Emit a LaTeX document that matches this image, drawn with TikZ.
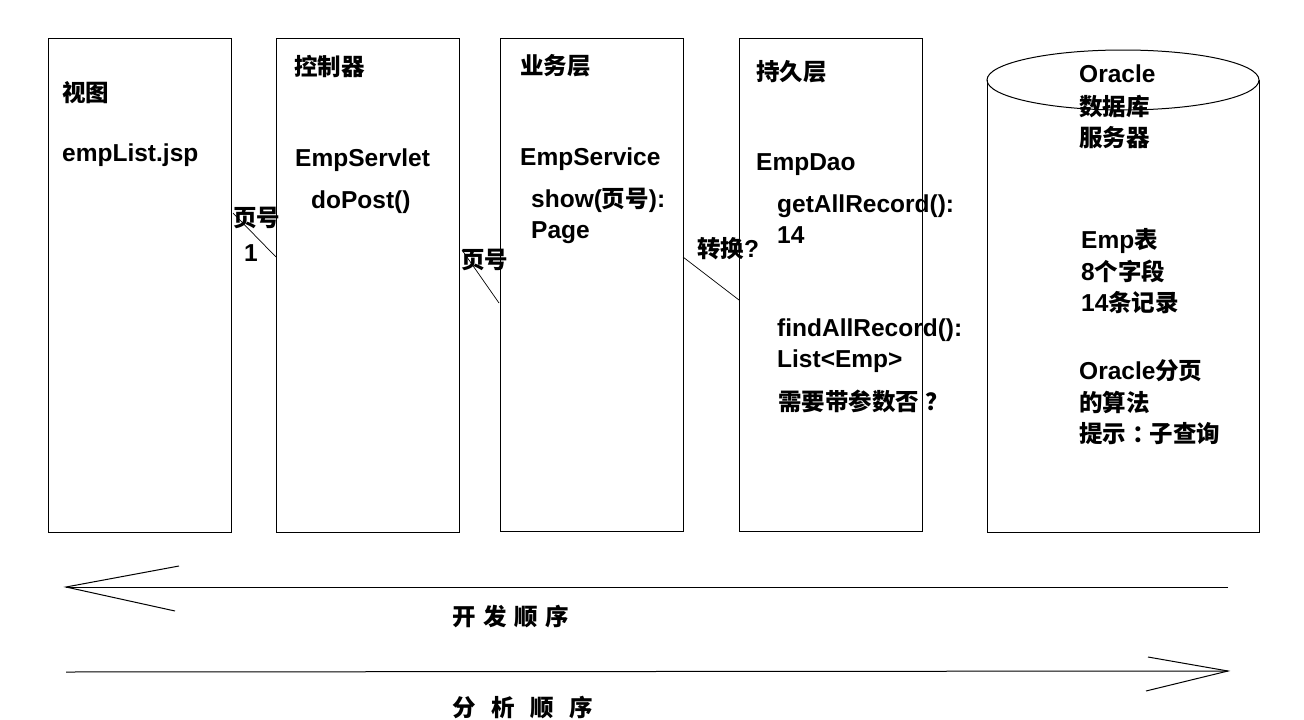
\documentclass[tikz,border=0pt]{standalone}
\usepackage{fontspec}
\setmainfont{Liberation Sans}
\newfontfamily\zhf{Noto Sans CJK SC}
\newcommand\zh[1]{{\zhf\bfseries\fontsize{23.5}{28}\selectfont #1}}
\begin{document}
\begin{tikzpicture}[x=1pt,y=-1pt,
  box/.style={draw,line width=1pt,inner sep=0pt,anchor=north west},
  txt/.style={inner sep=0pt,anchor=base west,font=\bfseries\fontsize{24.5}{30}\selectfont},
  thin/.style={line width=0.7pt},
  main/.style={line width=1pt}]
\useasboundingbox (0,0) rectangle (1304,720);
% boxes
\node[box,minimum width=183pt,minimum height=494pt] (view) at (48,38) {};
\node[box,minimum width=183pt,minimum height=494pt] (ctrl) at (276,38) {};
\node[box,minimum width=183pt,minimum height=493pt] (svc) at (500,38) {};
\node[box,minimum width=183pt,minimum height=493pt] (dao) at (739,38) {};
% cylinder
\draw[main] (987,80) -- (987,532) -- (1259,532) -- (1259,80);
\draw[main] (1123,80) ellipse [x radius=136, y radius=30];
% texts
\node[txt] (v1) at (62,101) {\zh{视图}};
\node[txt] (v2) at (62,161) {empList.jsp};
\node[txt] (c1) at (294,75) {\zh{控制器}};
\node[txt] (c2) at (295,166) {EmpServlet};
\node[txt] (c3) at (311,208) {doPost()};
\node[txt] (b1) at (520,74) {\zh{业务层}};
\node[txt] (b2) at (520,165) {EmpService};
\node[txt] (b3) at (531,207) {show(\zh{页号}):};
\node[txt] (b4) at (531,238) {Page};
\node[txt] (p1) at (756,80) {\zh{持久层}};
\node[txt] (p2) at (756,170) {EmpDao};
\node[txt] (p3) at (777,212) {getAllRecord():};
\node[txt] (p4) at (777,243) {14};
\node[txt] (p5) at (777,336) {findAllRecord():};
\node[txt] (p6) at (777,367) {List<Emp>};
\node[txt] (p7) at (778,410) {\zh{需要带参数否\hspace{6pt}？}};
\node[txt] (o1) at (1079,82) {Oracle};
\node[txt] (o2) at (1079,115) {\zh{数据库}};
\node[txt] (o3) at (1079,146) {\zh{服务器}};
\node[txt] (o4) at (1081,248) {Emp\zh{表}};
\node[txt] (o5) at (1081,280) {8\zh{个字段}};
\node[txt] (o6) at (1081,311) {14\zh{条记录}};
\node[txt] (o7) at (1079,379) {Oracle\zh{分页}};
\node[txt] (o8) at (1079,411) {\zh{的算法}};
\node[txt] (o9) at (1079,442) {\zh{提示\hspace{6pt}：\hspace{-6pt}子查询}};
\node[txt] (l1) at (233,226) {\zh{页号}};
\node[txt] (l2) at (244,261) {1};
\node[txt] (l3) at (461,268) {\zh{页号}};
\node[txt] (l4) at (697,257) {\zh{转换}?};
\node[txt] (a1) at (452,625) {\zh{开\hspace{7.5pt}发\hspace{7.5pt}顺\hspace{7.5pt}序}};
\node[txt] (a2) at (452,716) {\zh{分\hspace{15.5pt}析\hspace{15.5pt}顺\hspace{15.5pt}序}};
% diagonal connectors
\coordinate (d1a) at (233,213); \coordinate (d1b) at (276,257);
\coordinate (d2a) at (462,250); \coordinate (d2b) at (499,303);
\coordinate (d3a) at (683,257); \coordinate (d3b) at (739,300);
\draw[thin] (d1a) -- (d1b);
\draw[thin] (d2a) -- (d2b);
\draw[thin] (d3a) -- (d3b);
% development order arrow (leftwards)
\coordinate (t1) at (66,587); \coordinate (t2) at (1228,587);
\coordinate (t3) at (179,566); \coordinate (t4) at (175,611);
\draw[main] (t2) -- (t1);
\draw[main] (t3) -- (t1) -- (t4);
% analysis order arrow (rightwards)
\coordinate (s1) at (66,672); \coordinate (s2) at (1228,671);
\coordinate (s3) at (1148,657); \coordinate (s4) at (1146,691);
\draw[main] (s1) -- (s2);
\draw[main] (s3) -- (s2) -- (s4);
\end{tikzpicture}
\end{document}
